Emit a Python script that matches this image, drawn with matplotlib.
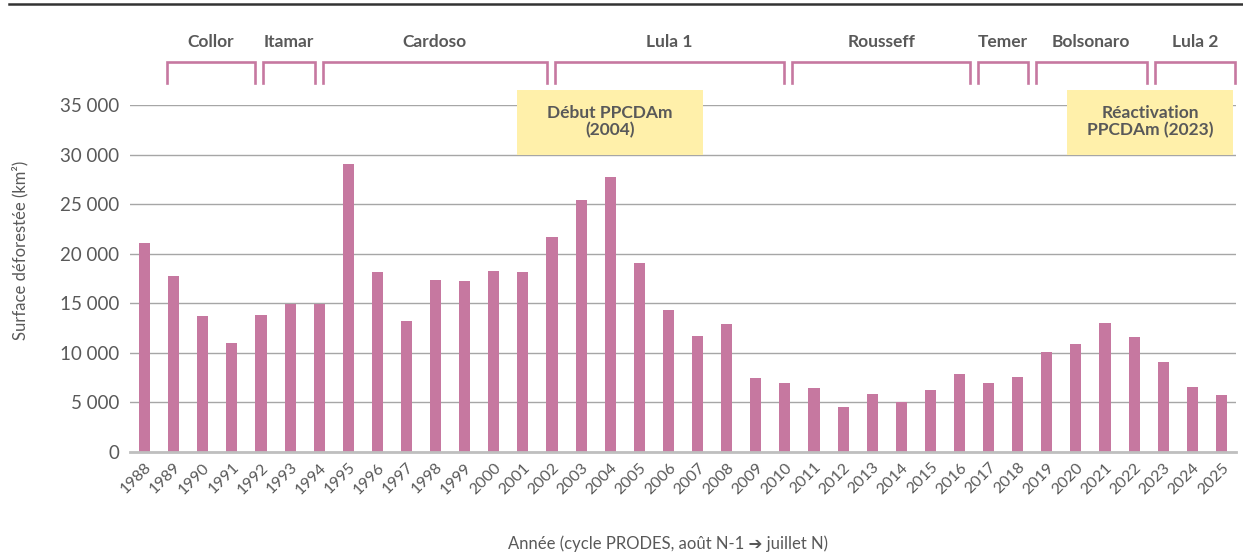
import matplotlib
matplotlib.use("Agg")
import matplotlib.pyplot as plt
from matplotlib.lines import Line2D
from matplotlib.patches import Rectangle
from matplotlib.ticker import FuncFormatter

# ========== DATA ==========
years = list(range(1988, 2026))
surface = [21050, 17770, 13730, 11030, 13786, 14896, 14896, 29059, 18161, 13227,
           17383, 17259, 18226, 18165, 21651, 25396, 27772, 19014, 14286, 11651,
           12911, 7464, 7000, 6418, 4571, 5891, 5012, 6207, 7893, 6947,
           7536, 10129, 10851, 13038, 11594, 9064, 6518, 5796]

presidents = ['Collor', 'Itamar', 'Cardoso', 'Lula 1', 'Rousseff', 'Temer', 'Bolsonaro', 'Lula 2']
mandate_start = [1988.77, 1992.06, 1994.12, 2002.10, 2010.26, 2016.63, 2018.62, 2022.71]
mandate_end = [1991.79, 1993.84, 2001.83, 2009.98, 2016.36, 2018.35, 2022.43, 2025.48]

notes = ['Début PPCDAm\n(2004)', 'Réactivation\nPPCDAm (2023)']
note_x0 = [2000.8, 2019.7]
note_x1 = [2007.17, 2025.4]

# ========== STYLE ==========
PINK = '#c678a0'
YELLOW = '#fff0aa'
GREY_TXT = '#595959'
FONT = ['Lato', 'DejaVu Sans']

fig = plt.figure(figsize=(12.43, 5.54), dpi=100)
ax = fig.add_axes([130 / 1243, 1 - 452 / 554, 1106 / 1243, 347 / 554])

ax.bar(years, surface, width=0.38, color=PINK, zorder=3)

ax.set_xlim(1987.5, 2025.5)
ax.set_ylim(0, 35000)
ax.set_yticks(range(0, 35001, 5000))
ax.yaxis.set_major_formatter(FuncFormatter(lambda v, p: f"{int(v):,}".replace(',', ' ')))
ax.grid(axis='y', color='#a6a6a6', linewidth=1, zorder=0)
for s in ['top', 'right', 'left']:
    ax.spines[s].set_visible(False)
ax.spines['bottom'].set_color('#bfbfbf')
ax.spines['bottom'].set_linewidth(2)
ax.spines['bottom'].set_zorder(4)

ax.set_xticks(years)
ax.set_xticklabels([str(y) for y in years], rotation=45, ha='right',
                   rotation_mode='anchor', fontsize=11.5, color=GREY_TXT, family=FONT)
ax.tick_params(axis='x', length=0, pad=6)
ax.tick_params(axis='y', length=0, pad=8, labelsize=13.5, labelcolor=GREY_TXT)
for lab in ax.get_yticklabels():
    lab.set_family(FONT)

# axis titles placed on the figure
fig.text(20 / 1243, 1 - 250 / 554, 'Surface déforestée (km²)', rotation=90, ha='center',
         va='center', fontsize=12, color=GREY_TXT, family=FONT)
fig.text(668 / 1243, 1 - 544 / 554, 'Année (cycle PRODES, août N-1 ➔ juillet N)', ha='center',
         va='center', fontsize=12, color=GREY_TXT, family=FONT)

# mandate brackets
trans = ax.get_xaxis_transform()
for name, x0, x1 in zip(presidents, mandate_start, mandate_end):
    ax.plot([x0, x0, x1, x1], [1.063, 1.124, 1.124, 1.063], color=PINK, linewidth=1.9,
            transform=trans, clip_on=False, solid_joinstyle='miter')
    ax.text((x0 + x1) / 2, 1.182, name, transform=trans, ha='center', va='center',
            fontsize=12.5, fontweight='bold', color=GREY_TXT, family=FONT)

# PPCDAm notes
for txt, x0, x1 in zip(notes, note_x0, note_x1):
    ax.add_patch(Rectangle((x0, 29957), x1 - x0, 36513 - 29957, facecolor=YELLOW,
                           edgecolor='none', zorder=5, clip_on=False))
    ax.text((x0 + x1) / 2, 33300, txt, ha='center', va='center', fontsize=12.5,
            fontweight='bold', color=GREY_TXT, family=FONT, zorder=6, linespacing=1.1)

# top rule
fig.add_artist(Line2D([9 / 1243, 1], [1 - 4 / 554, 1 - 4 / 554], color='#333333', linewidth=1.8))

plt.savefig('out.png', dpi=100)
plt.close()
